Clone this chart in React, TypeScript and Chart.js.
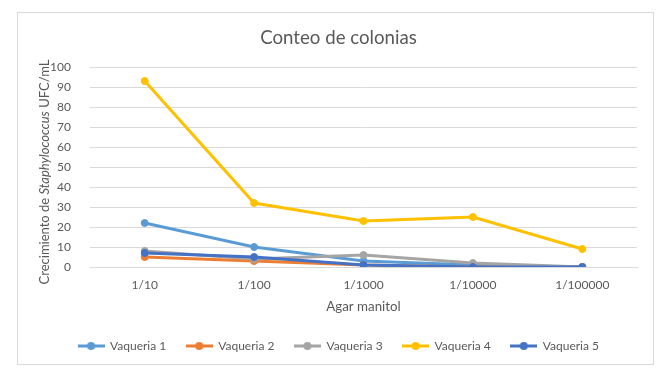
import { useEffect, useRef } from 'react';
import { Chart, registerables } from 'chart.js';

Chart.register(...registerables);

const categories = ['1/10', '1/100', '1/1000', '1/10000', '1/100000'];
const seriesNames = ['Vaqueria 1', 'Vaqueria 2', 'Vaqueria 3', 'Vaqueria 4', 'Vaqueria 5'];
const vaqueria1 = [22, 10, 3, 1, 0];
const vaqueria2 = [5, 3, 1, 0, 0];
const vaqueria3 = [8, 4, 6, 2, 0];
const vaqueria4 = [93, 32, 23, 25, 9];
const vaqueria5 = [7, 5, 1, 0, 0];
const seriesColors = ['#5B9BD5', '#ED7D31', '#A5A5A5', '#FFC000', '#4472C4'];
const yMin = 0;
const yMax = 100;
const yStep = 10;

const chartTitle = 'Conteo de colonias';
const xTitle = 'Agar manitol';
const yTitleParts = [
  { text: 'Crecimiento de ', italic: false },
  { text: 'Staphylococcus', italic: true },
  { text: ' UFC/mL', italic: false },
];

const FONT = 'Lato, "Noto Sans", sans-serif';
const TEXT = '#595959';
const GRID = '#d9d9d9';

function makeLegendIcon(color: string) {
  const c = document.createElement('canvas');
  c.width = 27;
  c.height = 10;
  const ctx = c.getContext('2d')!;
  ctx.strokeStyle = color;
  ctx.lineWidth = 3;
  ctx.beginPath();
  ctx.moveTo(0, 5);
  ctx.lineTo(27, 5);
  ctx.stroke();
  ctx.fillStyle = color;
  ctx.beginPath();
  ctx.arc(13.5, 5, 4, 0, Math.PI * 2);
  ctx.fill();
  return c;
}

const yTitlePlugin = {
  id: 'yTitleMixed',
  afterDraw(chart: any) {
    const { ctx, chartArea } = chart;
    const size = 13;
    ctx.save();
    ctx.fillStyle = TEXT;
    ctx.textBaseline = 'middle';
    ctx.textAlign = 'left';
    const widths = yTitleParts.map((p) => {
      ctx.font = `${p.italic ? 'italic ' : ''}${size}px ${FONT}`;
      return ctx.measureText(p.text).width;
    });
    const total = widths.reduce((a, b) => a + b, 0);
    ctx.translate(45, (chartArea.top + chartArea.bottom) / 2 + 5);
    ctx.rotate(-Math.PI / 2);
    let x = -total / 2;
    yTitleParts.forEach((p, i) => {
      ctx.font = `${p.italic ? 'italic ' : ''}${size}px ${FONT}`;
      ctx.fillText(p.text, x, 0);
      x += widths[i];
    });
    ctx.restore();
  },
};

export default function App() {
  const canvasRef = useRef<HTMLCanvasElement | null>(null);

  useEffect(() => {
    document.body.style.margin = '0';
    const canvas = canvasRef.current;
    if (!canvas) return;
    const allSeries = [vaqueria1, vaqueria2, vaqueria3, vaqueria4, vaqueria5];
    const icons = seriesColors.map(makeLegendIcon);
    const chart = new Chart(canvas, {
      type: 'line',
      data: {
        labels: categories,
        datasets: allSeries.map((values, i) => ({
          label: seriesNames[i],
          data: values,
          borderColor: seriesColors[i],
          backgroundColor: seriesColors[i],
          pointBackgroundColor: seriesColors[i],
          pointBorderColor: seriesColors[i],
          borderWidth: 3,
          pointRadius: 3.5,
          pointBorderWidth: 1,
          tension: 0,
          fill: false,
          order: allSeries.length - i,
        })),
      },
      options: {
        animation: false,
        responsive: false,
        maintainAspectRatio: false,
        events: [],
        layout: { padding: { left: 40, right: 27, top: 0, bottom: 11 } },
        plugins: {
          title: {
            display: true,
            text: chartTitle,
            color: TEXT,
            font: { family: FONT, size: 18.67, weight: 'normal' },
            padding: { top: 26.8, bottom: 17.8 },
          },
          legend: {
            position: 'bottom',
            labels: {
              usePointStyle: true,
              pointStyleWidth: 26,
              boxHeight: 10,
              color: TEXT,
              font: { family: FONT, size: 12 },
              padding: 20,
              sort: (a: any, b: any) => a.datasetIndex - b.datasetIndex,
              generateLabels: (ch: any) => {
                const items = Chart.defaults.plugins.legend.labels.generateLabels(ch);
                return items.map((it: any) => ({ ...it, pointStyle: icons[it.datasetIndex] }));
              },
            },
          },
          tooltip: { enabled: false },
        },
        scales: {
          x: {
            offset: true,
            grid: { display: false, drawTicks: false },
            border: { display: true, color: GRID, width: 1 },
            ticks: { color: TEXT, font: { family: FONT, size: 12 }, padding: 11 },
            title: {
              display: true,
              text: xTitle,
              color: TEXT,
              font: { family: FONT, size: 13.33 },
              padding: { top: 0, bottom: 5 },
            },
            afterFit: (s: any) => {
              s.height = 53;
            },
          },
          y: {
            min: yMin,
            max: yMax,
            ticks: { stepSize: yStep, color: TEXT, font: { family: FONT, size: 12 }, padding: 19 },
            grid: { color: GRID, drawTicks: false },
            border: { display: false },
            afterFit: (s: any) => {
              s.width = 50;
            },
          },
        },
      },
      plugins: [yTitlePlugin],
    });
    return () => chart.destroy();
  }, []);

  return (
    <div style={{ position: 'relative', width: 664, height: 373 }}>
      <canvas ref={canvasRef} width={664} height={373} style={{ width: 664, height: 373, display: 'block' }} />
      <div
        style={{
          position: 'absolute',
          left: 17,
          top: 12,
          width: 637,
          height: 353,
          boxSizing: 'border-box',
          border: `1px solid ${GRID}`,
          pointerEvents: 'none',
        }}
      />
    </div>
  );
}
